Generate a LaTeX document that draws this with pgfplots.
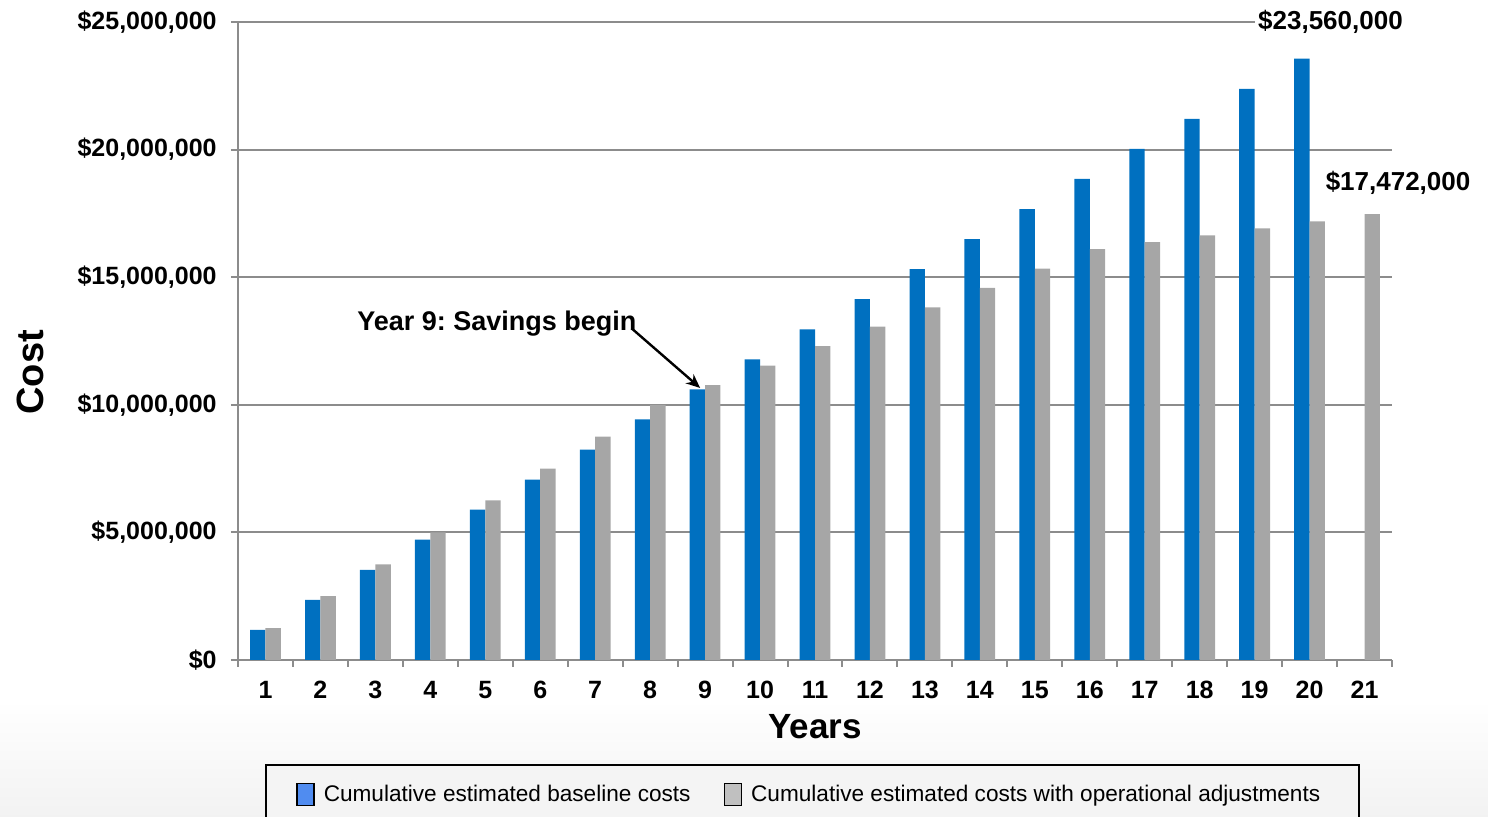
\documentclass[border=0pt]{standalone}
\usepackage{fontspec}
\setmainfont{Liberation Sans}
\usepackage{pgfplots}
\usepackage{pgfplotstable}
\pgfplotsset{compat=1.18}
\usetikzlibrary{arrows.meta}
\frenchspacing

\definecolor{barblue}{RGB}{0,112,192}
\definecolor{bargray}{RGB}{166,166,166}
\definecolor{gridgray}{RGB}{140,140,140}
\definecolor{legblue}{RGB}{80,140,240}
\definecolor{leggray}{RGB}{192,192,192}
\definecolor{legbg}{RGB}{244,244,244}

% Cumulative baseline costs (USD)
\pgfplotstableread{
year cost
1  1178000
2  2356000
3  3534000
4  4712000
5  5890000
6  7068000
7  8246000
8  9424000
9  10602000
10 11780000
11 12958000
12 14136000
13 15314000
14 16492000
15 17670000
16 18848000
17 20026000
18 21204000
19 22382000
20 23560000
}\baselinecosts

% Cumulative costs with operational adjustments (USD)
\pgfplotstableread{
year cost
1  1250000
2  2500000
3  3750000
4  5000000
5  6250000
6  7500000
7  8750000
8  10000000
9  10770000
10 11530000
11 12300000
12 13060000
13 13820000
14 14580000
15 15340000
16 16100000
17 16370000
18 16640000
19 16910000
20 17190000
21 17472000
}\adjustedcosts

\begin{document}
\begin{tikzpicture}
\path[use as bounding box] (-119pt,-78.5pt) rectangle (625pt,330pt);
\shade[top color=white, bottom color=black!5] (-119pt,-78.5pt) rectangle (625pt,-20pt);
\begin{axis}[
  at={(0,0)}, anchor=south west,
  scale only axis, width=577pt, height=319pt,
  xmin=0.5, xmax=21.5, ymin=0, ymax=25000000,
  scaled y ticks=false,
  ybar=0pt, bar width=0.28,
  axis x line*=bottom, axis y line*=left,
  axis line style={gridgray, line width=1pt},
  ymajorgrids, grid style={gridgray, line width=1pt},
  ytick={0,5000000,10000000,15000000,20000000,25000000},
  yticklabels={{\$0},{\$5,000,000},{\$10,000,000},{\$15,000,000},{\$20,000,000},{\$25,000,000}},
  xtick={1,...,21},
  minor xtick={0.5,1.5,...,21.5},
  tick align=outside,
  major tick length=3.5pt, minor tick length=3.5pt,
  every major x tick/.append style={draw=none},
  every minor x tick/.append style={gridgray, line width=1pt},
  every major y tick/.append style={gridgray, line width=1pt},
  /pgf/number format/assume math mode=true,
  ticklabel style={font=\fontsize{12.5}{15}\selectfont\bfseries},
  yticklabel style={inner sep=0pt, xshift=-7pt},
  xticklabel style={inner sep=0pt, anchor=north, yshift=-7pt},
  xlabel={Years}, ylabel={Cost},
  every axis x label/.style={at={(axis description cs:0.5,-0.105)}, anchor=center,
    font=\fontsize{17.5}{20}\selectfont\bfseries},
  every axis y label/.style={at={(axis description cs:-0.1802,0.451)}, anchor=center, rotate=90,
    font=\fontsize{19}{22}\selectfont\bfseries},
  legend columns=2,
  legend style={at={(axis description cs:0.498,-0.163)}, anchor=north,
    draw=black, line width=1pt, fill=legbg,
    inner xsep=15pt, inner ysep=8pt,
    font=\fontsize{11.3}{13}\selectfont,
    nodes={inner xsep=4.5pt},
    /tikz/every even column/.append style={column sep=12pt}},
  clip=false,
]
\addplot[fill=barblue, draw=none, bar shift=-0.14, forget plot] table[x=year, y=cost] {\baselinecosts};
\addplot[fill=bargray, draw=none, bar shift=0.14, forget plot] table[x=year, y=cost] {\adjustedcosts};

\addlegendimage{legend image code/.code={\draw[fill=legblue, draw=black, line width=0.8pt] (0pt,-5.5pt) rectangle (8.5pt,5.5pt);}}
\addlegendentry{Cumulative estimated baseline costs}
\addlegendimage{legend image code/.code={\draw[fill=leggray, draw=black, line width=0.8pt] (0pt,-5.5pt) rectangle (8.5pt,5.5pt);}}
\addlegendentry{Cumulative estimated costs with operational adjustments}

\node[font=\fontsize{13.5}{16}\selectfont\bfseries] at (axis cs:5.21,13170000) {Year 9: Savings begin};
\draw[-{Stealth[length=7pt,width=6pt]}, line width=1.2pt] (axis cs:7.66,13000000) -- (axis cs:8.91,10660000);
\node[font=\fontsize{13}{16}\selectfont\bfseries, fill=white, inner sep=1.5pt] at (axis cs:20.38,25000000) {\$23,560,000};
\node[font=\fontsize{13}{16}\selectfont\bfseries] at (axis cs:21.61,18690000) {\$17,472,000};
\end{axis}
\end{tikzpicture}
\end{document}
